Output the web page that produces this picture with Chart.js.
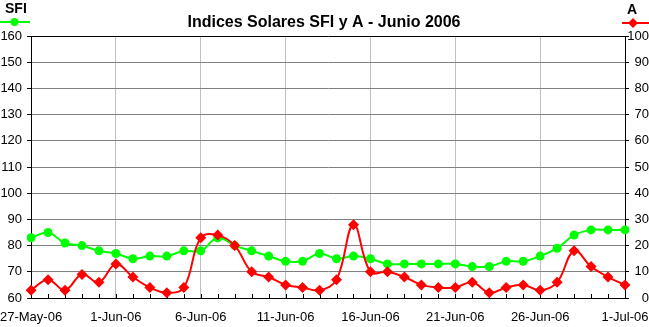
<!DOCTYPE html>
<html>
<head>
<meta charset="utf-8">
<script src="https://cdn.jsdelivr.net/npm/chart.js@4.4.1/dist/chart.umd.min.js"></script>
<style>
  html, body { margin: 0; padding: 0; background: #fff; }
  canvas { display: block; }
</style>
</head>
<body>
<canvas id="solarChart" width="649" height="327"></canvas>
<script>
const days = [
    '27-May-06', '28-May-06', '29-May-06', '30-May-06', '31-May-06',
    '1-Jun-06', '2-Jun-06', '3-Jun-06', '4-Jun-06', '5-Jun-06',
    '6-Jun-06', '7-Jun-06', '8-Jun-06', '9-Jun-06', '10-Jun-06',
    '11-Jun-06', '12-Jun-06', '13-Jun-06', '14-Jun-06', '15-Jun-06',
    '16-Jun-06', '17-Jun-06', '18-Jun-06', '19-Jun-06', '20-Jun-06',
    '21-Jun-06', '22-Jun-06', '23-Jun-06', '24-Jun-06', '25-Jun-06',
    '26-Jun-06', '27-Jun-06', '28-Jun-06', '29-Jun-06', '30-Jun-06',
    '1-Jul-06'
];
const sfiValues = [83, 85, 81, 80, 78, 77, 75, 76, 76, 78, 78, 83, 80, 78, 76, 74, 74, 77, 75, 76,
                   75, 73, 73, 73, 73, 73, 72, 72, 74, 74, 76, 79, 84, 86, 86, 86];
const aValues = [3, 7, 3, 9, 6, 13, 8, 4, 2, 4, 23, 24, 20, 10, 8, 5, 4, 3, 7, 28,
                 10, 10, 8, 5, 4, 4, 6, 2, 4, 5, 3, 6, 18, 12, 8, 5];

const chartTitle = 'Indices Solares SFI y A - Junio 2006';
const sfiLabel = 'SFI';
const aLabel = 'A';
const sfiRange = [60, 160];
const aRange = [0, 100];

const FONT = "'Liberation Sans', Arial, sans-serif";
const GREEN = '#00ff00';
const RED = '#ff0000';

// titulo, leyendas y marcas cortas del eje X
const decorations = {
    id: 'decorations',
    beforeDatasetsDraw(chart) {
        const { ctx, chartArea, scales } = chart;
        ctx.save();
        ctx.strokeStyle = '#000';
        ctx.lineWidth = 1;
        ctx.beginPath();
        days.forEach((d, i) => {
            const x = Math.round(scales.x.getPixelForTick(i)) + 0.5;
            ctx.moveTo(x, chartArea.bottom);
            ctx.lineTo(x, chartArea.bottom - 4);
        });
        ctx.stroke();
        ctx.restore();
    },
    afterDraw(chart) {
        const ctx = chart.ctx;
        ctx.save();
        ctx.fillStyle = '#000';
        ctx.textBaseline = 'alphabetic';

        ctx.font = 'bold 16px ' + FONT;
        ctx.textAlign = 'center';
        ctx.fillText(chartTitle, 324, 27);

        ctx.font = 'bold 14px ' + FONT;
        ctx.textAlign = 'left';
        ctx.fillText(sfiLabel, 5, 13);
        ctx.textAlign = 'center';
        ctx.fillText(aLabel, 632, 14);

        // muestra SFI
        ctx.strokeStyle = GREEN;
        ctx.lineWidth = 2;
        ctx.beginPath();
        ctx.moveTo(0, 22);
        ctx.lineTo(30, 22);
        ctx.stroke();
        ctx.fillStyle = GREEN;
        ctx.beginPath();
        ctx.arc(14.5, 22, 4, 0, Math.PI * 2);
        ctx.fill();

        // muestra A
        ctx.strokeStyle = RED;
        ctx.beginPath();
        ctx.moveTo(622, 23);
        ctx.lineTo(649, 23);
        ctx.stroke();
        ctx.fillStyle = RED;
        ctx.beginPath();
        ctx.moveTo(633, 18);
        ctx.lineTo(638, 23);
        ctx.lineTo(633, 28);
        ctx.lineTo(628, 23);
        ctx.closePath();
        ctx.fill();
        ctx.restore();
    }
};

new Chart(document.getElementById('solarChart'), {
    type: 'line',
    data: {
        labels: days,
        datasets: [{
            label: aLabel,
            data: aValues,
            yAxisID: 'y1',
            borderColor: RED,
            backgroundColor: RED,
            borderWidth: 2,
            tension: 0.4,
            pointStyle: 'rectRot',
            pointRadius: 5.5,
            pointBorderWidth: 0,
            pointBackgroundColor: RED
        }, {
            label: sfiLabel,
            data: sfiValues,
            yAxisID: 'y',
            borderColor: GREEN,
            backgroundColor: GREEN,
            borderWidth: 2,
            tension: 0.4,
            pointStyle: 'circle',
            pointRadius: 4.5,
            pointBorderWidth: 0,
            pointBackgroundColor: GREEN
        }]
    },
    options: {
        responsive: false,
        animation: false,
        devicePixelRatio: 1,
        layout: { padding: { top: 36, left: 0, right: 0, bottom: 0 } },
        plugins: {
            legend: { display: false },
            tooltip: { enabled: false }
        },
        scales: {
            x: {
                afterFit: s => { s.height = 29; },
                grid: {
                    color: c => (c.index % 5 === 0 ? '#c0c0c0' : 'rgba(0,0,0,0)'),
                    drawTicks: true,
                    tickLength: 12,
                    tickColor: 'rgba(0,0,0,0)'
                },
                border: { color: '#000', width: 1 },
                ticks: {
                    autoSkip: false,
                    maxRotation: 0,
                    padding: 0,
                    color: '#000',
                    font: { family: FONT, size: 13 },
                    callback: (v, i) => (i % 5 === 0 ? days[i] : '')
                }
            },
            y: {
                position: 'left',
                min: sfiRange[0],
                max: sfiRange[1],
                afterFit: s => { s.width = 31; },
                grid: {
                    color: c => (c.tick && c.tick.value === sfiRange[1] ? '#000' : '#808080'),
                    tickColor: '#000',
                    tickLength: 4
                },
                border: { color: '#000', width: 1 },
                ticks: {
                    stepSize: 10,
                    padding: 5,
                    color: '#000',
                    font: { family: FONT, size: 13 }
                }
            },
            y1: {
                position: 'right',
                min: aRange[0],
                max: aRange[1],
                afterFit: s => { s.width = 24; },
                grid: {
                    drawOnChartArea: false,
                    tickColor: '#000',
                    tickLength: 4
                },
                border: { color: '#000', width: 1 },
                ticks: {
                    stepSize: 10,
                    padding: 2,
                    crossAlign: 'far',
                    color: '#000',
                    font: { family: FONT, size: 13 }
                }
            }
        }
    },
    plugins: [decorations]
});
</script>
</body>
</html>
